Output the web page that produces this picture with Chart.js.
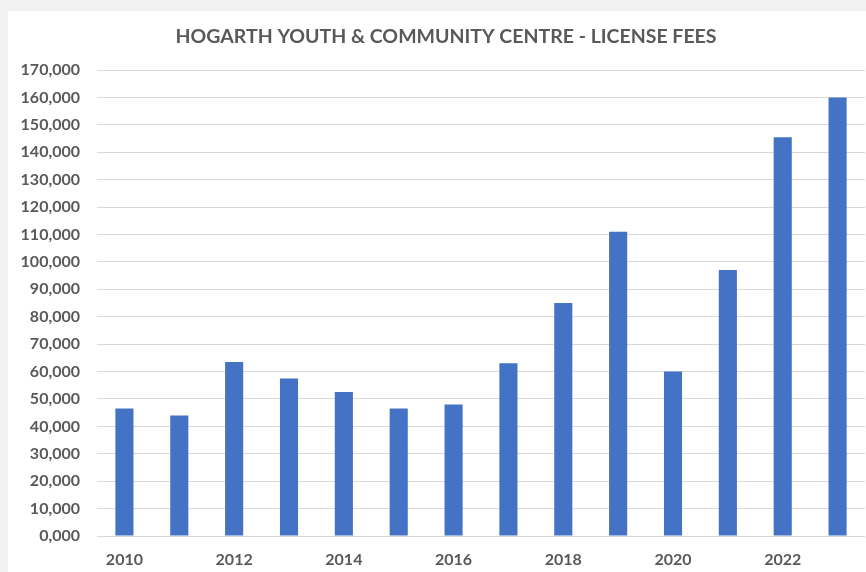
<!DOCTYPE html>
<html>
<head>
<meta charset="utf-8">
<script src="https://cdn.jsdelivr.net/npm/chart.js@4/dist/chart.umd.min.js"></script>
<style>
  html, body { margin: 0; padding: 0; background: #f3f3f3; }
  #wrap { width: 866px; height: 572px; position: relative; }
</style>
</head>
<body>
<div id="wrap"><canvas id="c" width="866" height="572"></canvas></div>
<script>
const chartTitle = 'HOGARTH YOUTH & COMMUNITY CENTRE - LICENSE FEES';
const years = ['2010','2011','2012','2013','2014','2015','2016','2017','2018','2019','2020','2021','2022','2023'];
const licenseFees = [46500, 44000, 63500, 57500, 52500, 46500, 48000, 63000, 85000, 111000, 60000, 97000, 145500, 160000];
const yMin = 0;
const yMax = 170000;
const yStep = 10000;

const bgPlugin = {
  id: 'bg',
  afterLayout(chart) {
    if (chart.titleBlock) { chart.titleBlock.left = 27; }
  },
  beforeDraw(chart) {
    const ctx = chart.ctx;
    ctx.save();
    ctx.fillStyle = '#f2f2f2';
    ctx.fillRect(0, 0, chart.width, chart.height);
    ctx.fillStyle = '#ffffff';
    ctx.fillRect(8, 11, chart.width - 8, chart.height - 11);
    ctx.restore();
  }
};

new Chart(document.getElementById('c'), {
  type: 'bar',
  data: {
    labels: years,
    datasets: [{
      label: 'License fees',
      data: licenseFees,
      backgroundColor: '#4472C4',
      borderWidth: 0,
      barPercentage: 0.66,
      categoryPercentage: 0.5
    }]
  },
  options: {
    responsive: false,
    animation: false,
    devicePixelRatio: 1,
    layout: { padding: { left: 10, right: 1, top: 0, bottom: 0 } },
    plugins: {
      legend: { display: false },
      tooltip: { enabled: false },
      title: {
        display: true,
        text: chartTitle,
        color: '#595959',
        font: { family: 'Lato', size: 19.5, weight: 'bold' },
        padding: { top: 25, bottom: 21.6 }
      }
    },
    scales: {
      x: {
        afterFit: function(scale) { scale.height = 36; },
        grid: { display: false, drawTicks: false },
        border: { display: false },
        ticks: {
          color: '#595959',
          font: { family: 'Lato', size: 16, weight: 'bold' },
          padding: 14,
          autoSkip: false,
          maxRotation: 0,
          callback: function(value, index) { return index % 2 === 0 ? years[index] : ''; }
        }
      },
      y: {
        min: yMin,
        max: yMax,
        afterFit: function(scale) { scale.width = 87; },
        grid: { color: '#d9d9d9', lineWidth: 1, drawTicks: false },
        border: { display: false },
        ticks: {
          stepSize: yStep,
          color: '#595959',
          font: { family: 'Lato', size: 16, weight: 'bold' },
          padding: 17,
          callback: function(v) {
            if (v === 0) return '0,000';
            return v.toLocaleString('en-US');
          }
        }
      }
    }
  },
  plugins: [bgPlugin]
});
</script>
</body>
</html>
